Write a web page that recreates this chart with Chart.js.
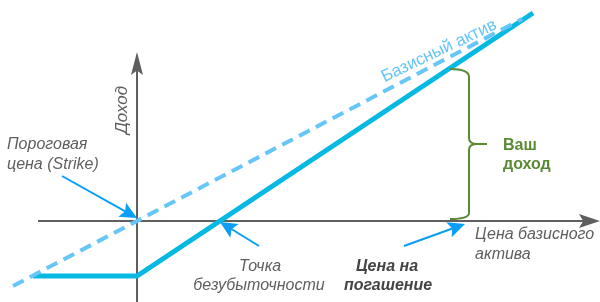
<!DOCTYPE html>
<html lang="ru">
<head>
<meta charset="utf-8">
<title>Колл-опцион: доход</title>
<script src="https://cdn.jsdelivr.net/npm/chart.js@4"></script>
<style>
  html, body { margin: 0; padding: 0; background: #fff; }
  #wrap { width: 600px; height: 302px; }
</style>
</head>
<body>
<div id="wrap"><canvas id="chart" width="600" height="302"></canvas></div>
<script>
// Данные (цена относительно страйка, доход)
const underlyingX = [-124, 385];
const underlyingY = [-65, 202];
const payoffX = [-104, 0, 396];
const payoffY = [-55, -55, 208];

// Оси диаграммы
const axisX = [-99, 463];
const axisY = [-81, 169];
const breakEvenX = 83;
const strikeX = 0;
const expiryX = 328;

// Скобка "Ваш доход"
const bracketX = 332;
const bracketTop = 152;
const bracketBottom = 2;

const toPoints = (xs, ys) => xs.map((x, i) => ({ x: x, y: ys[i] }));

const GRAY = '#5f5f5f';
const BLUE = '#0a9ef5';
const GREEN = '#5b8a34';
const FONT = '"Liberation Sans", Arial, sans-serif';

function arrowLine(ctx, x1, y1, x2, y2, head, width, color) {
    const ang = Math.atan2(y2 - y1, x2 - x1);
    ctx.save();
    ctx.strokeStyle = color;
    ctx.fillStyle = color;
    ctx.lineWidth = 2;
    ctx.beginPath();
    ctx.moveTo(x1, y1);
    ctx.lineTo(x2 - Math.cos(ang) * head * 0.7, y2 - Math.sin(ang) * head * 0.7);
    ctx.stroke();
    ctx.translate(x2, y2);
    ctx.rotate(ang);
    ctx.beginPath();
    ctx.moveTo(0, 0);
    ctx.lineTo(-head, -width);
    ctx.lineTo(-head * 0.8, 0);
    ctx.lineTo(-head, width);
    ctx.closePath();
    ctx.fill();
    ctx.restore();
}

function text(ctx, str, x, y, font, color, align) {
    ctx.font = font;
    ctx.fillStyle = color;
    ctx.textAlign = align || 'left';
    ctx.textBaseline = 'middle';
    ctx.fillText(str, x, y);
}

const axesPlugin = {
    id: 'axesPlugin',
    beforeDatasetsDraw(chart) {
        const ctx = chart.ctx;
        const sx = chart.scales.x;
        const sy = chart.scales.y;
        const ox = sx.getPixelForValue(0);
        const oy = sy.getPixelForValue(0);
        ctx.save();
        ctx.strokeStyle = GRAY;
        ctx.lineWidth = 2;
        ctx.beginPath();
        ctx.moveTo(sx.getPixelForValue(axisX[0]), oy);
        ctx.lineTo(sx.getPixelForValue(axisX[1]) - 10, oy);
        ctx.moveTo(ox, sy.getPixelForValue(axisY[0]));
        ctx.lineTo(ox, sy.getPixelForValue(axisY[1]) + 10);
        ctx.stroke();
        ctx.restore();
        arrowLine(ctx, ox, oy, sx.getPixelForValue(axisX[1]), oy, 21, 7, GRAY);
        arrowLine(ctx, ox, oy, ox, sy.getPixelForValue(axisY[1]), 23, 6, GRAY);
    }
};

const notesPlugin = {
    id: 'notesPlugin',
    afterDraw(chart) {
        const ctx = chart.ctx;
        const sx = chart.scales.x;
        const sy = chart.scales.y;
        const px = v => sx.getPixelForValue(v);
        const py = v => sy.getPixelForValue(v);
        const it = 'italic 16px ' + FONT;

        // Ось Y
        ctx.save();
        ctx.translate(px(-15), py(111));
        ctx.rotate(-Math.PI / 2);
        text(ctx, 'Доход', 0, 0, 'italic 17px ' + FONT, GRAY, 'center');
        ctx.restore();

        // Страйк
        text(ctx, 'Пороговая', px(-130), py(76), it, GRAY);
        text(ctx, 'цена (Strike)', px(-130), py(56), it, GRAY);
        arrowLine(ctx, px(-75), py(45), px(strikeX), py(3), 17, 8, BLUE);

        // Безубыточность
        text(ctx, 'Точка', px(123), py(-46), it, GRAY, 'center');
        text(ctx, 'безубыточности', px(122), py(-65), it, GRAY, 'center');
        arrowLine(ctx, px(122), py(-25), px(breakEvenX), py(-1), 17, 8, BLUE);

        // Цена на погашение
        const bi = 'italic bold 16px ' + FONT;
        text(ctx, 'Цена на', px(250), py(-46), bi, '#444', 'center');
        text(ctx, 'погашение', px(251), py(-65), bi, '#444', 'center');
        arrowLine(ctx, px(267), py(-25), px(expiryX), py(-3), 17, 8, BLUE);

        // Подпись оси X
        text(ctx, 'Цена базисного', px(338), py(-14), it, GRAY);
        text(ctx, 'актива', px(338), py(-34), it, GRAY);

        // Базисный актив
        ctx.save();
        ctx.translate(px(302), py(170));
        ctx.rotate(-25.5 * Math.PI / 180);
        text(ctx, 'Базисный актив', 0, 0, '17px ' + FONT, '#66c6f8', 'center');
        ctx.restore();

        // Скобка
        const bx = px(bracketX);
        const top = py(bracketTop);
        const bot = py(bracketBottom);
        const mid = (top + bot) / 2;
        ctx.save();
        ctx.strokeStyle = GREEN;
        ctx.lineWidth = 2;
        ctx.beginPath();
        ctx.moveTo(bx - 19, top);
        ctx.quadraticCurveTo(bx, top, bx, top + 8);
        ctx.lineTo(bx, mid - 6);
        ctx.quadraticCurveTo(bx, mid, bx + 8, mid);
        ctx.lineTo(bx + 18, mid);
        ctx.moveTo(bx + 8, mid);
        ctx.quadraticCurveTo(bx, mid, bx, mid + 6);
        ctx.lineTo(bx, bot - 6);
        ctx.quadraticCurveTo(bx, bot, bx - 19, bot);
        ctx.stroke();
        ctx.restore();
        const bold = 'bold 16px ' + FONT;
        text(ctx, 'Ваш', px(366), py(75), bold, GREEN);
        text(ctx, 'доход', px(366), py(56), bold, GREEN);
    }
};

new Chart(document.getElementById('chart'), {
    type: 'scatter',
    data: {
        datasets: [
            {
                label: 'Базисный актив',
                data: toPoints(underlyingX, underlyingY),
                showLine: true,
                borderColor: '#66c6f8',
                borderWidth: 4,
                borderDash: [12, 7],
                pointRadius: 0,
                clip: false
            },
            {
                label: 'Доход',
                data: toPoints(payoffX, payoffY),
                showLine: true,
                borderColor: '#06b9e2',
                borderWidth: 5,
                pointRadius: 0,
                clip: false
            }
        ]
    },
    options: {
        responsive: false,
        animation: false,
        layout: { padding: 0 },
        plugins: { legend: { display: false }, tooltip: { enabled: false } },
        scales: {
            x: { type: 'linear', min: -137, max: 463, display: false },
            y: { type: 'linear', min: -81, max: 221, display: false }
        }
    },
    plugins: [axesPlugin, notesPlugin]
});
</script>
</body>
</html>
